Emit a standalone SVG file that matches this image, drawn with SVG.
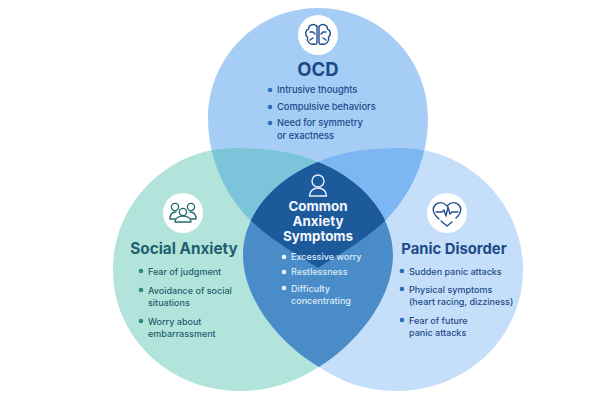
<svg xmlns="http://www.w3.org/2000/svg" width="600" height="400" viewBox="0 0 600 400">
<style>
text{font-family:"Inter","Liberation Sans",sans-serif}
.t{font-weight:700;text-anchor:middle}
.b{font-size:9px;font-weight:500}
.bo{font-size:9.300px}
.o{fill:#1b4a88}.s{fill:#1f5f6e}.p{fill:#1f4a88}.c{fill:#dcebfa}
.ic{fill:none;stroke-width:1.400;stroke-linecap:round;stroke-linejoin:round}
</style>
<defs>
<path id="A" d="M318 8C379 8 428 57 428 118C428 160 410 195 387 219C365 240 340 254 318 268C296 254 271 240 249 219C226 195 208 160 208 118C208 57 257 8 318 8Z"/>
<path id="B" d="M235 148C270 148 297 152 318 162C358 178 393 212 393 255C393 300 355 345 319 367C295 382 270 391 240 391C168 391 113 336 113 270C113 203 168 148 235 148Z"/>
<path id="C" d="M401 148C366 148 339 152 318 162C278 178 243 212 243 255C243 300 281 345 319 367C341 382 366 391 396 391C468 391 523 336 523 270C523 203 468 148 401 148Z"/>
<clipPath id="ca"><use href="#A"/></clipPath>
<clipPath id="cb"><use href="#B"/></clipPath>
</defs>
<rect width="600" height="400" fill="#fff"/>
<g id="regions">
<use href="#A" fill="#a6cdf6"/>
<use href="#B" fill="#b2e4dc"/>
<use href="#C" fill="#c5dffa"/>
<g clip-path="url(#ca)"><use href="#B" fill="#7cc4da"/><use href="#C" fill="#7db6f2"/></g>
<g clip-path="url(#cb)"><use href="#C" fill="#4a8cc8"/></g>
<g clip-path="url(#ca)"><g clip-path="url(#cb)"><use href="#C" fill="#1d5a9c"/></g></g>
</g>
<g id="ocd">
<circle cx="318" cy="35" r="20" fill="#fff"/>
<g class="ic" stroke="#1d4f8f"><path d="M316.500 26c-3-3-8-1-8 3c-3 1-4 6-1 8c-1 4 2 8 6 7c2 1 3.500 0 3.500-2V26zM319.500 26c3-3 8-1 8 3c3 1 4 6 1 8c1 4-2 8-6 7c-2 1-3.500 0-3.500-2V26z"/><path d="M310 32h3l2 2M326 32h-3l-2 2M310 40l3-2M326 40l-3-2"/></g>
<text class="t o" x="318" y="76" font-size="18.500">OCD</text>
<circle cx="270" cy="90" r="2.300" fill="#2d6fbd"/><text class="b bo o" x="277" y="93">Intrusive thoughts</text>
<circle cx="270" cy="107" r="2.300" fill="#2d6fbd"/><text class="b bo o" x="277" y="110">Compulsive behaviors</text>
<circle cx="270" cy="123" r="2.300" fill="#2d6fbd"/><text class="b bo o" x="277" y="126">Need for symmetry</text><text class="b bo o" x="277" y="139">or exactness</text>
</g>
<g id="social">
<circle cx="183" cy="213" r="20" fill="#fff"/>
<g class="ic" stroke="#256b73"><circle cx="175" cy="207" r="3.600"/><circle cx="191" cy="207" r="3.600"/><circle cx="183" cy="212" r="3.600"/><path d="M170 219c0-5 3-7 6-7M196 219c0-5-3-7-6-7M170 219h5M196 219h-5M175 222c0-4 4-6 8-6s8 2 8 6z"/></g>
<text class="t s" x="184" y="254" font-size="15.300">Social Anxiety</text>
<circle cx="141" cy="271" r="2.300" fill="#2a8a84"/><text class="b s" x="148" y="275">Fear of judgment</text>
<circle cx="141" cy="290" r="2.300" fill="#2a8a84"/><text class="b s" x="148" y="294">Avoidance of social</text><text class="b s" x="148" y="306">situations</text>
<circle cx="141" cy="321" r="2.300" fill="#2a8a84"/><text class="b s" x="148" y="325">Worry about</text><text class="b s" x="148" y="337">embarrassment</text>
</g>
<g id="panic">
<circle cx="447" cy="213" r="20" fill="#fff"/>
<g class="ic" stroke="#24508f"><path d="M439 219l-3-3c-8-8 3-19 11-10c8-9 19 2 11 10l-2 2M436 212h6l2-2 2 6 2-9 2 7 2-2h6M441 221l6 5 5-4"/></g>
<text class="t p" x="454" y="254" font-size="14.800">Panic Disorder</text>
<circle cx="402" cy="271" r="2.300" fill="#2d6fbd"/><text class="b p" x="409" y="275">Sudden panic attacks</text>
<circle cx="402" cy="289" r="2.300" fill="#2d6fbd"/><text class="b p" x="409" y="293">Physical symptoms</text><text class="b p" x="409" y="305">(heart racing, dizziness)</text>
<circle cx="402" cy="320" r="2.300" fill="#2d6fbd"/><text class="b p" x="409" y="324">Fear of future</text><text class="b p" x="409" y="336">panic attacks</text>
</g>
<g id="common">
<g class="ic" stroke="#e8f1fb"><circle cx="318" cy="181" r="6"/><path d="M309.500 196c0-5 4-8 8.500-8s8.500 3 8.500 8z"/></g>
<text class="t" fill="#f2f7fd" x="318" y="211" font-size="13.400">Common</text>
<text class="t" fill="#f2f7fd" x="318" y="226" font-size="13.400">Anxiety</text>
<text class="t" fill="#f2f7fd" x="318" y="241" font-size="13.400">Symptoms</text>
<circle cx="284" cy="257" r="2.300" fill="#eef5fc"/><text class="b c" x="291" y="260">Excessive worry</text>
<circle cx="284" cy="272" r="2.300" fill="#eef5fc"/><text class="b c" x="291" y="275">Restlessness</text>
<circle cx="284" cy="288" r="2.300" fill="#eef5fc"/><text class="b c" x="291" y="292">Difficulty</text><text class="b c" x="291" y="304">concentrating</text>
</g>
</svg>
